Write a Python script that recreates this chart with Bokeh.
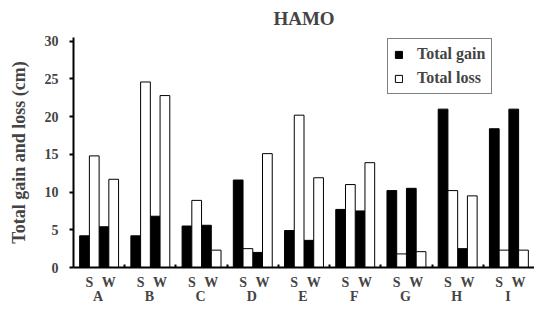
from bokeh.plotting import figure
from bokeh.models import Range1d, FixedTicker, LinearAxis, Legend, LegendItem
from bokeh.embed import file_html
from bokeh.resources import INLINE
import numpy as np

# ---- data ----
groups = ["A", "B", "C", "D", "E", "F", "G", "H", "I"]
seasons = ["S", "W"]
gain_S = [4.2, 4.2, 5.5, 11.6, 4.9, 7.7, 10.2, 21.0, 18.4]
loss_S = [14.8, 24.6, 8.9, 2.5, 20.2, 11.0, 1.8, 10.2, 2.3]
gain_W = [5.4, 6.8, 5.6, 2.0, 3.6, 7.5, 10.5, 2.5, 21.0]
loss_W = [11.7, 22.8, 2.3, 15.1, 11.9, 13.9, 2.1, 9.5, 2.3]
y_ticks = [0, 5, 10, 15, 20, 25, 30]

FONT = "Liberation Serif"

n = len(groups)
gi = np.arange(n)
bw = 0.19
margin = 0.12

x_gS = gi + margin + bw * 0.5
x_lS = gi + margin + bw * 1.5
x_gW = gi + margin + bw * 2.5
x_lW = gi + margin + bw * 3.5

p = figure(width=534, height=306, output_backend="svg", toolbar_location=None,
           x_range=Range1d(0, n), y_range=Range1d(0, 30.5),
           min_border_left=73, min_border_right=0, min_border_top=37, min_border_bottom=0)
p.border_fill_color = "white"
p.title.text = "HAMO"
p.title.align = "center"
p.title.vertical_align = "top"
p.title.text_font = FONT
p.title.text_font_style = "bold"
p.title.text_font_size = "19px"
p.title.standoff = 13

p.outline_line_color = None
p.xgrid.visible = False
p.ygrid.visible = False
p.background_fill_color = "white"

r_gain = p.vbar(x=np.concatenate([x_gS, x_gW]), top=gain_S + gain_W, width=bw,
                fill_color="black", line_color="black", line_width=1)
r_loss = p.vbar(x=np.concatenate([x_lS, x_lW]), top=loss_S + loss_W, width=bw,
                fill_color="white", line_color="black", line_width=1)

# y axis
ya = p.yaxis[0]
ya.ticker = FixedTicker(ticks=y_ticks)
ya.axis_label = "Total gain and loss (cm)"
ya.axis_label_text_font = FONT
ya.axis_label_text_font_style = "bold"
ya.axis_label_text_font_size = "18px"
ya.axis_label_standoff = 13
ya.major_label_text_font = FONT
ya.major_label_text_font_style = "bold"
ya.major_label_text_font_size = "14px"
ya.major_tick_out = 4
ya.major_tick_in = 0
ya.minor_tick_out = 0
ya.minor_tick_in = 0
ya.major_label_standoff = 11
ya.axis_line_width = 2
ya.major_tick_line_width = 2

# x axis with S/W labels and group separators
sw_pos = list(np.concatenate([gi + margin + bw, gi + margin + bw * 3]))
sw_lab = {}
for i in range(n):
    sw_lab[float(gi[i] + margin + bw)] = seasons[0]
    sw_lab[float(gi[i] + margin + bw * 3)] = seasons[1]
xa = p.xaxis[0]
xa.ticker = FixedTicker(ticks=[float(v) for v in sw_pos], minor_ticks=list(range(1, n)))
xa.major_label_overrides = sw_lab
xa.major_tick_in = 0
xa.major_tick_out = 0
xa.minor_tick_in = 3
xa.minor_tick_out = 0
xa.axis_line_width = 2
xa.minor_tick_line_width = 2
xa.major_label_text_font = FONT
xa.major_label_text_font_style = "bold"
xa.major_label_text_font_size = "14px"
xa.major_label_standoff = 7
xa.axis_label_standoff = 0

# group letter axis
centers = [float(v) for v in gi + 0.48]
ga = LinearAxis(ticker=FixedTicker(ticks=centers),
                major_label_overrides={c: g for c, g in zip(centers, groups)})
ga.axis_line_color = None
ga.major_tick_line_color = None
ga.minor_tick_line_color = None
ga.major_tick_out = 0
ga.major_tick_in = 0
ga.minor_tick_out = 0
ga.minor_tick_in = 0
ga.major_label_text_font = FONT
ga.major_label_text_font_style = "bold"
ga.major_label_text_font_size = "14px"
ga.major_label_standoff = -4
ga.axis_label_standoff = 0
p.add_layout(ga, "below")

legend = Legend(items=[LegendItem(label="Total gain", renderers=[r_gain]),
                       LegendItem(label="Total loss", renderers=[r_loss])],
                location=(314, 173))
legend.label_text_font = FONT
legend.label_text_font_style = "bold"
legend.label_text_font_size = "16px"
legend.glyph_width = 9
legend.glyph_height = 9
legend.label_height = 18
legend.border_line_color = "black"
legend.border_line_width = 1
legend.padding = 6
legend.spacing = 6
legend.label_standoff = 14
legend.margin = 0
p.add_layout(legend, "center")

open("out.html", "w").write(file_html(p, INLINE))
